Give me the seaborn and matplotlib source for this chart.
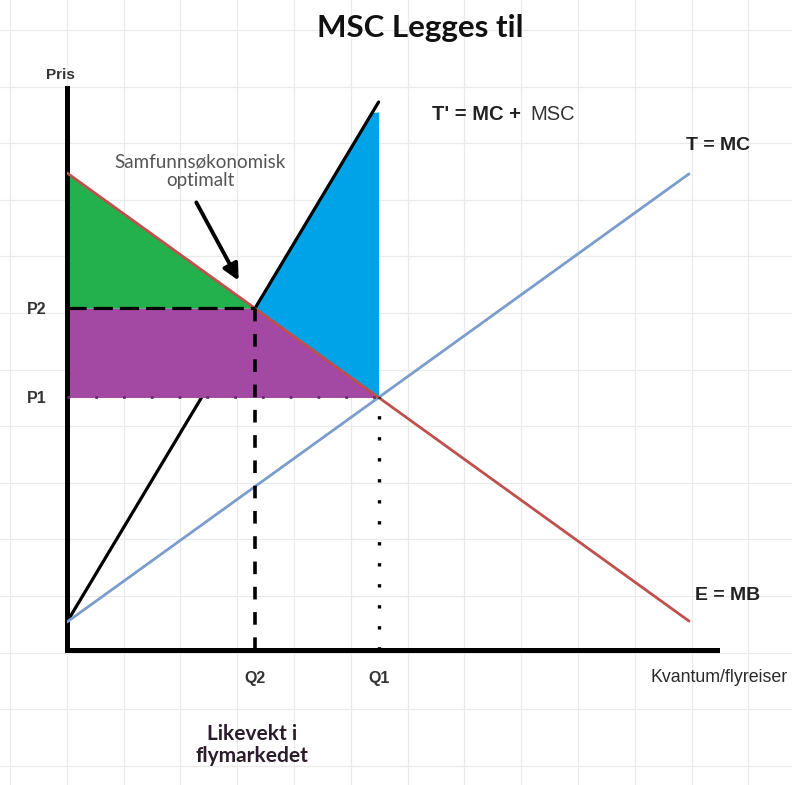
import numpy as np
import matplotlib
matplotlib.use('Agg')
import matplotlib.pyplot as plt
import seaborn as sns

# quantities / prices (units: 1 unit ~ 31 px in the original)
q_line = [0, 20]
demand_price = [15.34, 0.93]      # E = MB
mc_price = [0.90, 15.31]          # T = MC
msc_q = [0, 10.02]
msc_price = [0.90, 17.62]         # T* = MC + MSC
Q2, Q1 = 6.03, 10.02
P2, P1 = 10.99, 8.12
blue_top = 17.3

x_ticks = [Q2, Q1]
x_tick_labels = ['Q2', 'Q1']
y_ticks = [P1, P2]
y_tick_labels = ['P1', 'P2']

W, H = 792, 785
PX = 31.1

sns.set_theme(style='white')
plt.rcParams['font.family'] = ['Liberation Sans', 'DejaVu Sans']

fig = plt.figure(figsize=(W / 100, H / 100), dpi=100)
fig.patch.set_facecolor('white')

# faint spreadsheet grid in the background
bg = fig.add_axes([0, 0, 1, 1], zorder=-1)
bg.set_xlim(0, W)
bg.set_ylim(H, 0)
bg.set_xticks(np.arange(10, W, 56.8))
bg.set_yticks(np.arange(30, H, 56.6))
bg.grid(True, color='#eaeaea', lw=0.9)
bg.tick_params(length=0, labelbottom=False, labelleft=False)
for s in bg.spines.values():
    s.set_visible(False)

ox, oy = 67, 650
top, right = 88, 717
ax = fig.add_axes([ox / W, (H - oy) / H, (right - ox) / W, (oy - top) / H])
ax.set_facecolor('none')
ax.set_xlim(0, (right - ox) / PX)
ax.set_ylim(0, (oy - top) / PX)

# slope of T* line, used to let the blue area follow it
slope = (msc_price[1] - msc_price[0]) / (msc_q[1] - msc_q[0])
q_edge = Q1 - 0.2

# lines
sns.lineplot(x=msc_q, y=msc_price, color='black', lw=2.3, ax=ax, zorder=1)
sns.lineplot(x=q_line, y=mc_price, color='#7b9dcb', lw=2.0, ax=ax, zorder=3)

# areas
ax.fill_between([0, Q2], [demand_price[0], P2], P2, color='#22b14c', lw=0, zorder=2)
ax.fill_between([0, Q2, Q1], [P2, P2, P1], P1, color='#a349a4', lw=0, zorder=2)
ax.fill_between([Q2, q_edge, Q1],
                [P2, msc_price[0] + slope * q_edge, blue_top],
                [P2, P2 + (P1 - P2) * (q_edge - Q2) / (Q1 - Q2), P1],
                color='#00a2e8', lw=0, zorder=0.5)

sns.lineplot(x=q_line, y=demand_price, color='#c0504d', lw=2.0, ax=ax, zorder=4)

# guide lines
ax.plot([0, Q2], [P2, P2], color='black', lw=2.3, dashes=(6, 2.2), zorder=5)
ax.plot([Q2, Q2], [0, P2], color='black', lw=2.6, dashes=(3.5, 3.5), zorder=5)
ax.plot([0, Q1], [P1, P1], color='#6b2a6b', lw=2.0, dashes=(1, 9), zorder=5)
ax.plot([Q1, Q1], [0, P1], color='black', lw=2.4, dashes=(1, 5.3), zorder=5)

# axes look
for side in ['top', 'right']:
    ax.spines[side].set_visible(False)
for side in ['left', 'bottom']:
    ax.spines[side].set_color('black')
    ax.spines[side].set_linewidth(3.6)
ax.set_xticks(x_ticks, x_tick_labels)
ax.set_yticks(y_ticks, y_tick_labels)
ax.tick_params(axis='x', length=0, pad=15, labelsize=11.5, labelcolor='#333333')
ax.tick_params(axis='y', length=0, pad=15, labelsize=11.5, labelcolor='#333333')
for lab in ax.get_xticklabels() + ax.get_yticklabels():
    lab.set_fontweight('bold')
ax.grid(False)


def fx(px):
    return px / W


def fy(py):
    return 1 - py / H


fig.text(fx(420), fy(28), 'MSC Legges til', family='Lato', weight='bold',
         fontsize=22.5, color='#111111', ha='center', va='center')
fig.text(fx(60), fy(75), 'Pris', fontsize=11, weight='bold', color='#333333',
         ha='center', va='center')
fig.text(fx(650), fy(677), 'Kvantum/flyreiser', fontsize=12.8, color='#2a2a2a',
         ha='left', va='center')
fig.text(fx(686), fy(146), 'T = MC', fontsize=14, weight='bold', color='#222222',
         ha='left', va='center')
fig.text(fx(695), fy(595), 'E = MB', fontsize=14, weight='bold', color='#222222',
         ha='left', va='center')
fig.text(fx(432), fy(115), "T' = MC +", fontsize=14.5, weight='bold', color='#222222',
         ha='left', va='center')
fig.text(fx(530), fy(115), 'MSC', fontsize=14.5, color='#333333', ha='left', va='center')
fig.text(fx(200), fy(171), 'Samfunnsøkonomisk\noptimalt', family='Lato', fontsize=13.5,
         color='#555555', ha='center', va='center', linespacing=1.1)
fig.text(fx(252), fy(745), 'Likevekt i\nflymarkedet', family='Lato', weight='bold',
         fontsize=15, color='#2a1c2a', ha='center', va='center', linespacing=1.15)

ax.annotate('', xy=((240 - ox) / PX, (oy - 283) / PX), xytext=((195 - ox) / PX, (oy - 200) / PX),
            arrowprops=dict(arrowstyle='-|>', color='black', lw=2.8, mutation_scale=24),
            zorder=6)

fig.savefig('out.png', dpi=100, facecolor='white')
